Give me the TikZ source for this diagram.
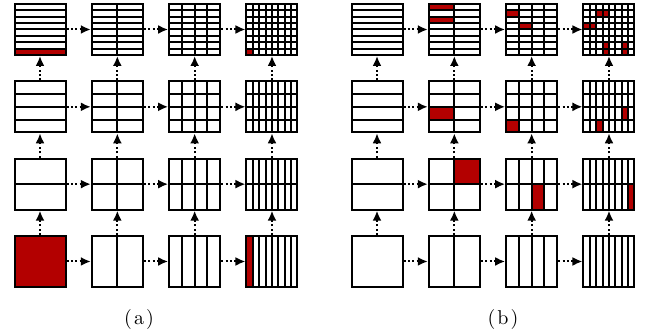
\documentclass[tikz,border=0pt]{standalone}
\usetikzlibrary{calc,arrows.meta}
\definecolor{cellred}{HTML}{B30000}
\tikzset{
  gridbox/.style={inner sep=0pt, outer sep=0pt, minimum size=25.5pt},
  gridline/.style={line width=1pt},
  flow/.style={line width=1pt, dash pattern=on 1pt off 1.2pt,
    shorten <=0.5pt, shorten >=0.5pt, -{Latex[length=5pt,width=4.5pt]}},
  redcell/.style={fill=cellred},
  caption/.style={font=\normalsize}
}
\newcommand\redcell[5]{%
  \fill[redcell] ($(#1.north west)+({#4*51/#2},{#5*51/#3})$) rectangle
    ($(#1.north west)+({(#4+1)*51/#2},{(#5+1)*51/#3})$);}
\begin{document}
\begin{tikzpicture}[x=0.5pt,y=-0.5pt]
\useasboundingbox (0,0) rectangle (649,335);
% square nodes: \p-\i-\j, i = row from bottom (2^i rows), j = column (2^j columns)
\foreach \p/\xo in {a/0,b/337}{
  \foreach \i in {0,...,3}{
    \foreach \j in {0,...,3}{
      \node[gridbox] (\p-\i-\j) at ({40+\xo+77.33*\j},{29.5+77.33*(3-\i)}) {};
    }}}
% red cells, panel (a)
\redcell{a-3-0}{1}{8}{0}{7}
\redcell{a-3-3}{8}{8}{0}{7}
\redcell{a-0-0}{1}{1}{0}{0}
\redcell{a-0-3}{8}{1}{0}{0}
% red cells, panel (b)
\redcell{b-3-1}{2}{8}{0}{0}
\redcell{b-3-1}{2}{8}{0}{2}
\redcell{b-3-2}{4}{8}{0}{1}
\redcell{b-3-2}{4}{8}{1}{3}
\redcell{b-3-3}{8}{8}{2}{1}
\redcell{b-3-3}{8}{8}{3}{1}
\redcell{b-3-3}{8}{8}{0}{3}
\redcell{b-3-3}{8}{8}{1}{3}
\redcell{b-3-3}{8}{8}{3}{6}
\redcell{b-3-3}{8}{8}{3}{7}
\redcell{b-3-3}{8}{8}{6}{6}
\redcell{b-3-3}{8}{8}{6}{7}
\redcell{b-2-1}{2}{4}{0}{2}
\redcell{b-2-2}{4}{4}{0}{3}
\redcell{b-2-3}{8}{4}{6}{2}
\redcell{b-2-3}{8}{4}{2}{3}
\redcell{b-1-1}{2}{2}{1}{0}
\redcell{b-1-2}{4}{2}{2}{1}
\redcell{b-1-3}{8}{2}{7}{1}
% grid lines and borders
\foreach \p in {a,b}{
  \foreach \i in {0,...,3}{
    \foreach \j in {0,...,3}{
      \pgfmathtruncatemacro\nc{2^\j}
      \pgfmathtruncatemacro\nr{2^\i}
      \foreach \k in {1,...,7}{
        \ifnum\k<\nc
          \draw[gridline] ($(\p-\i-\j.north west)+({\k*51/\nc},0)$) -- ($(\p-\i-\j.south west)+({\k*51/\nc},0)$);
        \fi
        \ifnum\k<\nr
          \draw[gridline] ($(\p-\i-\j.north west)+(0,{\k*51/\nr})$) -- ($(\p-\i-\j.north east)+(0,{\k*51/\nr})$);
        \fi
      }
      \draw[gridline] (\p-\i-\j.north west) rectangle (\p-\i-\j.south east);
    }}}
% connectors
\foreach \p in {a,b}{
  \foreach \i in {0,...,3}{
    \foreach \j/\jn in {0/1,1/2,2/3}{
      \draw[flow] (\p-\i-\j.east) -- (\p-\i-\jn.west);
    }}
  \foreach \i/\in in {0/1,1/2,2/3}{
    \foreach \j in {0,...,3}{
      \draw[flow] (\p-\i-\j.north) -- (\p-\in-\j.south);
    }}}
% captions
\node[caption] (capa) at (139,319.5) {(\kern1pt a\kern1pt)};
\node[caption] (capb) at (503,319.5) {(\kern1pt b\kern1pt)};
\end{tikzpicture}
\end{document}
